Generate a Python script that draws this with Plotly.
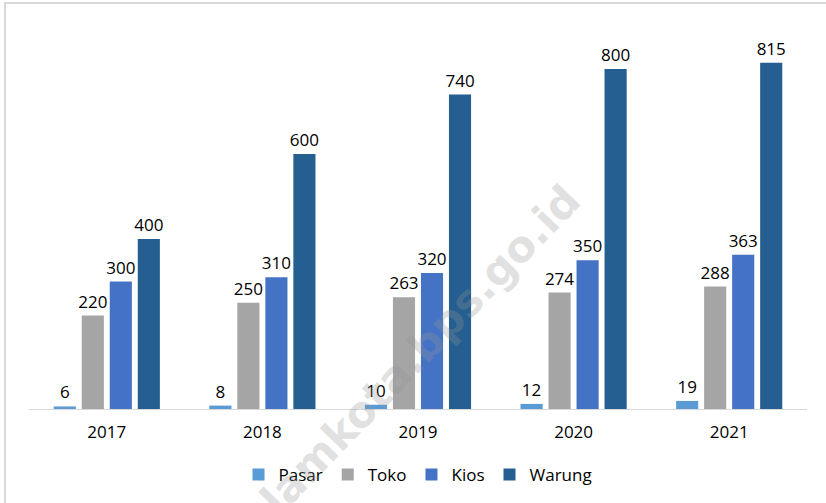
import plotly.graph_objects as go

years = ["2017", "2018", "2019", "2020", "2021"]
pasar = [6, 8, 10, 12, 19]
toko = [220, 250, 263, 274, 288]
kios = [300, 310, 320, 350, 363]
warung = [400, 600, 740, 800, 815]

series = [
    ("Pasar", pasar, "#5B9BD5"),
    ("Toko", toko, "#A5A5A5"),
    ("Kios", kios, "#4472C4"),
    ("Warung", warung, "#255E91"),
]

FONT = "'Open Sans', sans-serif"

fig = go.Figure()
for name, vals, color in series:
    fig.add_trace(go.Bar(
        name=name, x=years, y=vals,
        marker=dict(color=color, line=dict(width=0)),
        text=[str(v) for v in vals], textposition="outside",
        textfont=dict(size=17, color="#000000", family=FONT),
        constraintext="none",
        cliponaxis=False,
    ))

W, H = 826, 503
ml, mr, mt, mb = 29, 19, 35, 94
pw, ph = W - ml - mr, H - mt - mb

def px(x):
    return (x - ml) / pw

def py(y):
    return (H - mb - y) / ph

fig.update_layout(
    width=W, height=H,
    margin=dict(l=ml, r=mr, t=mt, b=mb, autoexpand=False),
    paper_bgcolor="white", plot_bgcolor="white",
    barmode="group", bargap=0.28, bargroupgap=0.21,
    font=dict(family=FONT, size=17, color="#000000"),
    xaxis=dict(showgrid=False, showline=True, linecolor="#D9D9D9", linewidth=1,
               ticks="", tickfont=dict(size=17, family=FONT), ticklabelstandoff=8),
    yaxis=dict(range=[0, 880], visible=False),
    legend=dict(orientation="h", x=0.5, xanchor="center", y=py(475), yanchor="middle",
                font=dict(size=17, family=FONT), itemwidth=30, traceorder="normal",
                bgcolor="rgba(0,0,0,0)"),
    showlegend=True,
    annotations=[dict(
        text="<b>lamkota.bps.go.id</b>", xref="paper", yref="paper",
        x=px(420), y=py(350), xanchor="center", yanchor="middle",
        showarrow=False, textangle=-46,
        font=dict(size=43, color="rgba(150,150,150,0.3)", family="DejaVu Sans"),
    )],
    shapes=[dict(type="rect", xref="paper", yref="paper",
                 x0=px(5), x1=px(830), y0=py(510), y1=py(3),
                 line=dict(color="#D9D9D9", width=2), fillcolor="rgba(0,0,0,0)", layer="below")],
)

fig.write_html("out.html", post_script="document.body.style.margin='0';",
               config={"displayModeBar": False})
